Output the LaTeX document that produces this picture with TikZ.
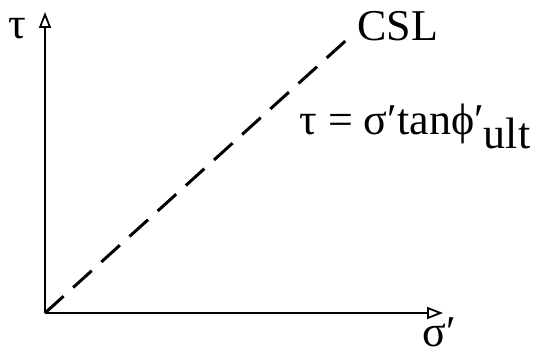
\documentclass[tikz,border=0pt]{standalone}
\usepackage{fontspec}
\setmainfont{Liberation Serif}
\usetikzlibrary{arrows.meta}
\tikzset{
  axis/.style={line width=1pt, -{Triangle[open, length=8pt, width=6pt, line width=0.9pt]}},
  csl/.style={line width=1.5pt, dash pattern=on 12.5pt off 6.5pt},
  lbl/.style={font=\fontsize{22}{26}\selectfont, inner sep=0pt}
}
\begin{document}
\begin{tikzpicture}[x=0.5pt, y=-0.5pt]
  \useasboundingbox (0,0) rectangle (533,353);
  \coordinate (origin) at (45,313);
  \coordinate (tautop) at (45,12);
  \coordinate (sigend) at (443,313);
  \coordinate (cslend) at (352,35);

  \draw[axis] (origin) -- (tautop);
  \draw[axis] (origin) -- (sigend);
  \draw[csl] (origin) -- (cslend);

  \node[lbl] (taulbl) at (17,29) {τ};
  \node[lbl, anchor=base, text depth=0pt] (siglbl) at (439,346) {σ′};
  \node[lbl, anchor=base west] (csllbl) at (357,40) {CSL};
  \node[lbl, anchor=base west] (eqn) at (299,134) {τ = σ′tanϕ′\raisebox{-7pt}{ult}};
\end{tikzpicture}
\end{document}
